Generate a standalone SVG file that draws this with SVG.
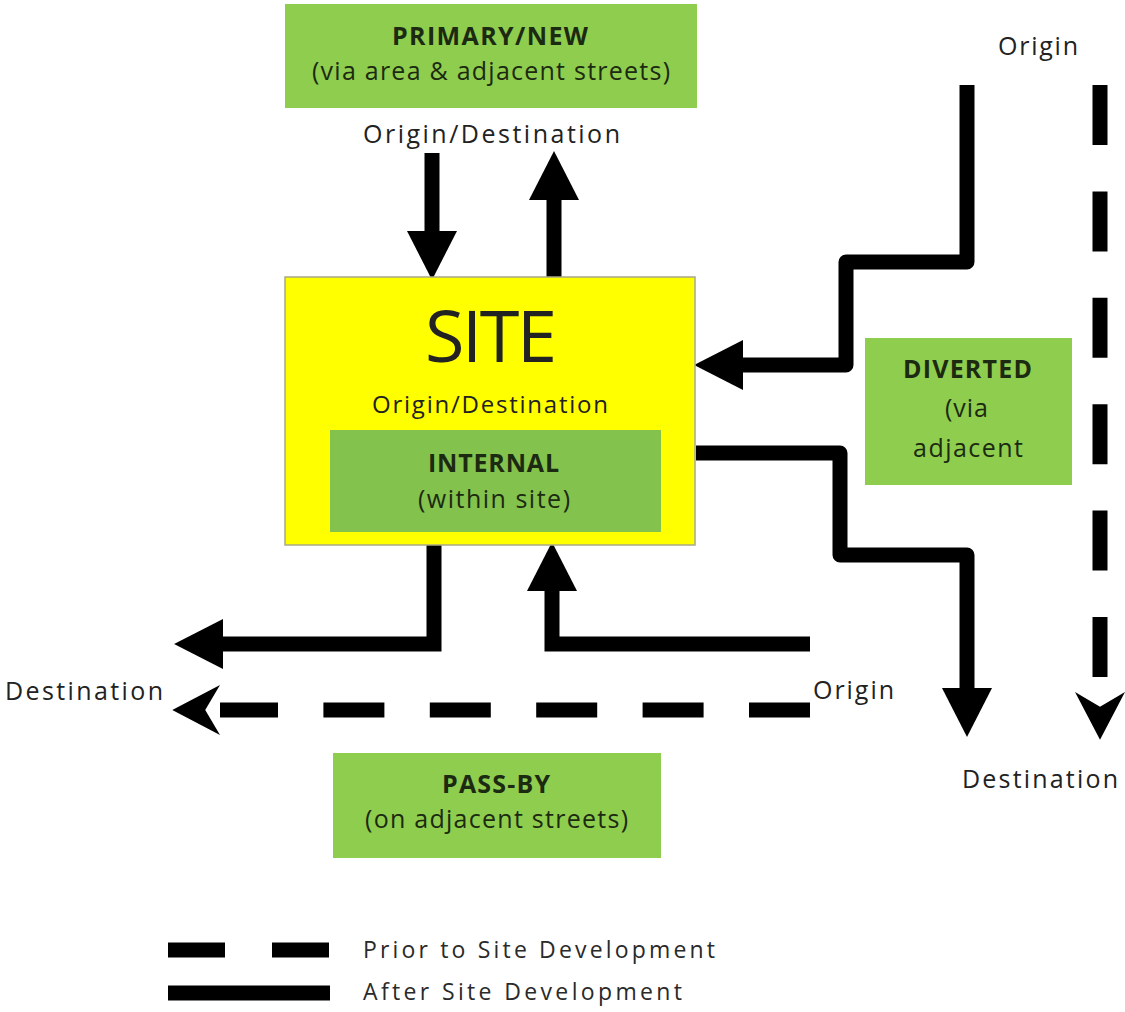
<svg xmlns="http://www.w3.org/2000/svg" width="1125" height="1012" viewBox="0 0 1125 1012">
  <style>
    text { font-family: "Open Sans", "Liberation Sans", sans-serif; fill: #222; }
    .lbl { font-size: 25px; }
    .boxt { font-size: 25px; fill: #1b2a10; }
    .b { font-weight: bold; }
    .leg { font-size: 23px; fill: #2a2a2a; }
    .green { fill: #8fcd4f; }
    .inner { fill: #84c24e; }
    .site { fill: #ffff00; stroke: #a8a88a; stroke-width: 1.5; }
    .after { fill: none; stroke: #000; stroke-width: 15; }
    .prior { fill: none; stroke: #000; stroke-width: 15; }
  </style>
  <defs>
    <!-- solid triangular head; reference point at the base -->
    <marker id="head" markerUnits="userSpaceOnUse" markerWidth="50" markerHeight="50" refX="0" refY="23" orient="auto" viewBox="0 0 46 46" overflow="visible">
      <polygon points="0,0 45,23 0,46" fill="#000"/>
    </marker>
    <!-- open chevron head for the dashed routes -->
    <marker id="chev" markerUnits="userSpaceOnUse" markerWidth="50" markerHeight="50" refX="0" refY="22" orient="auto" viewBox="0 0 44 44" overflow="visible">
      <polygon points="0,0 42,22 0,44 13,22" fill="#000"/>
    </marker>
  </defs>

  <rect width="1125" height="1012" fill="#fff"/>

  <!-- connectors -->
  <g id="connectors">
    <!-- primary / new -->
    <path class="after" d="M432 153 V231" marker-end="url(#head)"/>
    <path class="after" d="M554 277 V200" marker-end="url(#head)"/>
    <!-- diverted, after development -->
    <path class="after" d="M967 85 V262 H846 V365 H743" stroke-linejoin="round" marker-end="url(#head)"/>
    <path class="after" d="M696 453 H840 V555 H967 V688" stroke-linejoin="round" marker-end="url(#head)"/>
    <!-- pass-by, after development -->
    <path class="after" d="M434 545 V644 H223" marker-end="url(#head)"/>
    <path class="after" d="M810 644 H552 V591" marker-end="url(#head)"/>
    <!-- prior to development -->
    <path class="prior" d="M810 710 H220" stroke-dasharray="61 45.4" marker-end="url(#chev)"/>
    <path class="prior" d="M1100 85 V692" stroke-dasharray="60 46.4" marker-end="url(#chev)"/>
  </g>

  <g id="primary">
    <rect class="green" x="285" y="4" width="412" height="104"/>
    <text class="boxt b" x="392" y="45" textLength="196" lengthAdjust="spacing">PRIMARY/NEW</text>
    <text class="boxt" x="312" y="80" textLength="358" lengthAdjust="spacing">(via area &amp; adjacent streets)</text>
  </g>
  <text class="lbl" x="363" y="143" textLength="257" lengthAdjust="spacing">Origin/Destination</text>

  <g id="site">
    <rect class="site" x="285" y="277" width="410" height="268"/>
    <text x="425" y="362" font-size="72" textLength="132" lengthAdjust="spacing" fill="#111">SITE</text>
    <text x="372" y="413" font-size="24" textLength="236" lengthAdjust="spacing">Origin/Destination</text>
  </g>

  <g id="internal">
    <rect class="inner" x="330" y="430" width="331" height="102"/>
    <text class="boxt b" x="428" y="472" font-size="24" textLength="131" lengthAdjust="spacing">INTERNAL</text>
    <text class="boxt" x="418" y="508" font-size="24" textLength="152" lengthAdjust="spacing">(within site)</text>
  </g>

  <g id="diverted">
    <rect class="green" x="865" y="338" width="207" height="147"/>
    <text class="boxt b" x="903" y="378" font-size="24" textLength="129" lengthAdjust="spacing">DIVERTED</text>
    <text class="boxt" x="945" y="417" font-size="24" textLength="43" lengthAdjust="spacing">(via</text>
    <text class="boxt" x="913" y="457" font-size="24" textLength="110" lengthAdjust="spacing">adjacent</text>
  </g>

  <g id="passby">
    <rect class="green" x="333" y="753" width="328" height="105"/>
    <text class="boxt b" x="442" y="793" font-size="24" textLength="108" lengthAdjust="spacing">PASS-BY</text>
    <text class="boxt" x="365" y="828" font-size="24" textLength="263" lengthAdjust="spacing">(on adjacent streets)</text>
  </g>

  <!-- end labels -->
  <g id="labels">
    <text class="lbl" x="998" y="55" textLength="80" lengthAdjust="spacing">Origin</text>
    <text class="lbl" x="5" y="700" textLength="158" lengthAdjust="spacing">Destination</text>
    <text class="lbl" x="813" y="699" textLength="81" lengthAdjust="spacing">Origin</text>
    <text class="lbl" x="962" y="788" textLength="156" lengthAdjust="spacing">Destination</text>
  </g>

  <g id="legend">
    <path class="prior" d="M168 950 H330" stroke-dasharray="57 47"/>
    <path class="after" d="M168 993 H330" stroke-width="16"/>
    <text class="leg" x="363" y="958" textLength="352" lengthAdjust="spacing">Prior to Site Development</text>
    <text class="leg" x="363" y="1000" textLength="319" lengthAdjust="spacing">After Site Development</text>
  </g>
</svg>
